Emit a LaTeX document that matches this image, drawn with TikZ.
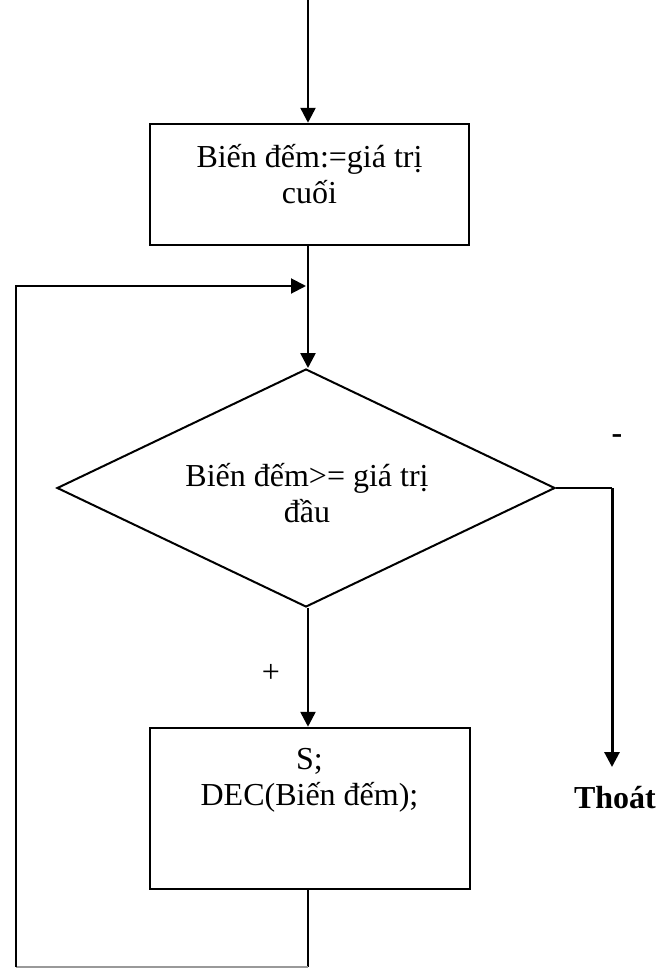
\documentclass[tikz,border=0pt]{standalone}
\usepackage{fontspec}
\setmainfont{Liberation Serif}
\usetikzlibrary{arrows.meta,shapes.geometric}
\begin{document}
\begin{tikzpicture}[x=1pt,y=-1pt,
  every node/.style={font=\fontsize{32}{36}\selectfont},
  procbox/.style={draw,line width=2.5pt,inner sep=0pt},
  decision/.style={draw,diamond,line width=2pt,inner sep=0pt,shape aspect=2.09},
  txt/.style={align=center,inner sep=0pt},
  flow/.style={line width=2.6pt,-{Triangle[length=15pt,width=15pt]}},
  plain/.style={line width=2pt},
  faint/.style={line width=1.5pt,draw=black!40}
]
\useasboundingbox (0,0) rectangle (670,969);

% nodes
\node[procbox,minimum width=319pt,minimum height=121pt] (b1) at (309.5,184.5) {};
\node[txt] (t1) at (309.5,174.5) {Biến đếm:=giá trị\\cuối};

\node[decision,minimum width=498pt,minimum height=238pt] (d) at (306,488) {};
\node[txt] (t2) at (307,493) {Biến đếm>= giá trị\\đầu};

\node[procbox,minimum width=320pt,minimum height=161pt] (b2) at (310,808.5) {};
\node[txt] (t3) at (309.5,780) {S;\\DEC(Biến đếm);};

\node[inner sep=0pt] (plus) at (271,673) {+};
\node[inner sep=0pt,font=\fontsize{32}{36}\selectfont\bfseries] (minus) at (617,439) {-};
\node[inner sep=0pt,font=\fontsize{32}{36}\selectfont\bfseries] (exit) at (615,798) {Thoát};

% coordinates
\coordinate (start) at (308,0);
\coordinate (merge) at (308,286);
\coordinate (lb) at (16,967);
\coordinate (ex) at (612,488);
\coordinate (exend) at (612,767);

% connectors
\draw[flow] (start) -- (start |- b1.north);
\draw[flow] (start |- b1.south) -- (start |- d.north);
\draw[flow] (start |- d.south) -- (start |- b2.north);
\draw[line width=1.5pt] (d.east) -- (ex);
\draw[flow,line width=3pt] (ex) -- (exend);

\draw[plain] (start |- b2.south) -- (start |- lb);
\draw[faint] (start |- lb) -- (lb);
\draw[plain,-{Triangle[length=15pt,width=15pt]}] (lb) -- (lb |- merge) -- ([xshift=-2pt]merge);
\end{tikzpicture}
\end{document}
